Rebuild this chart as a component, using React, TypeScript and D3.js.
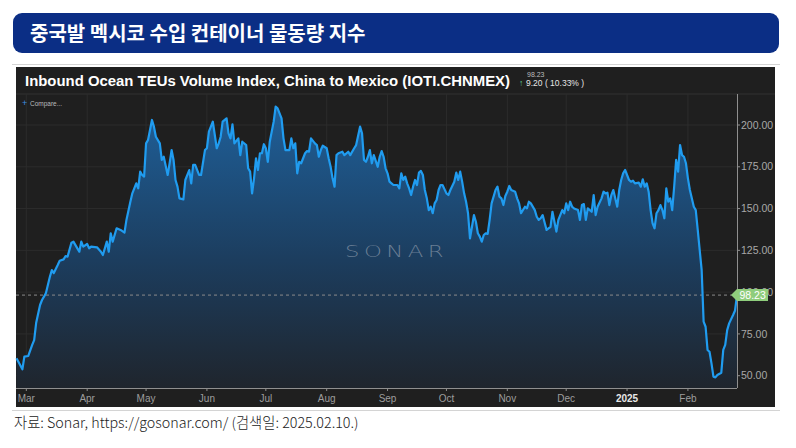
import React from "react";
import * as d3 from "d3";

// ---- Data ----
const START = new Date(2024, 2, 1); // day offset 0 = 2024-03-01
const dayOffsets = [
  -5, -2, -1, 1, 3, 4, 5, 7, 8, 9, 10, 12, 13, 14, 16, 17, 19, 20, 21, 23, 24, 26, 27, 28, 29, 31, 32, 33, 36, 38, 39, 41, 42, 43, 44, 46, 48, 50, 51, 53, 54, 56, 57, 58, 59, 60, 61, 62, 64, 65, 66, 68, 69, 70, 72, 73, 74, 75, 76, 77, 78, 80, 81, 83, 84, 85, 86, 88, 89, 91, 92, 93, 95, 97, 98, 99, 100, 102, 103, 104, 105, 106, 108, 109, 110, 112, 113, 114, 115, 116, 117, 118, 119, 120, 121, 122, 123, 124, 126, 127, 128, 130, 131, 132, 134, 135, 136, 137, 138, 139, 140, 142, 143, 144, 145, 147, 148, 149, 150, 151, 153, 154, 155, 156, 157, 158, 159, 161, 162, 164, 165, 167, 168, 170, 171, 172, 173, 174, 175, 176, 177, 179, 180, 181, 182, 183, 184, 185, 186, 187, 189, 190, 191, 192, 193, 194, 195, 196, 197, 198, 199, 200, 201, 202, 203, 204, 205, 206, 207, 208, 209, 210, 211, 212, 214, 215, 216, 218, 219, 220, 221, 222, 223, 224, 225, 226, 227, 228, 229, 230, 231, 232, 233, 234, 235, 236, 237, 239, 240, 241, 242, 243, 244, 245, 246, 247, 249, 250, 251, 252, 254, 255, 256, 257, 259, 260, 261, 262, 263, 265, 267, 268, 270, 271, 273, 274, 275, 276, 277, 278, 279, 281, 282, 283, 284, 285, 286, 287, 288, 289, 290, 291, 293, 294, 295, 296, 297, 298, 299, 301, 302, 303, 304, 305, 307, 308, 309, 310, 312, 313, 314, 315, 316, 317, 318, 319, 320, 321, 322, 323, 324, 325, 326, 327, 328, 329, 330, 331, 332, 333, 334, 335, 336, 337, 338, 340, 341, 342, 343, 344, 345, 346, 347, 348, 349, 350, 351, 352, 354, 355, 356, 357, 358, 360, 361, 362,
];
const indexValues = [
  60.4, 53.8, 61.4, 61.8, 68.4, 71.3, 81.5, 92.3, 95.3, 97.3, 99.5, 109.2, 113.2, 111.4, 116.2, 118.8, 119.6, 121.6, 121.2, 129.6, 130.2, 126.2, 124.2, 130.2, 127.2, 128.8, 126.2, 127.2, 126.8, 124.2, 122.2, 130.2, 124.2, 135.2, 130.2, 138.2, 137.2, 135.6, 143.2, 154.1, 159.1, 165.1, 162.1, 172.1, 170.1, 169.1, 189.0, 191.0, 203.0, 199.0, 193.0, 189.0, 179.1, 181.0, 170.1, 177.1, 185.0, 179.1, 167.1, 163.1, 156.1, 155.5, 167.1, 173.0, 165.1, 176.1, 176.1, 170.1, 170.1, 185.0, 186.1, 196.0, 202.0, 186.1, 189.0, 193.0, 202.0, 204.0, 195.0, 192.0, 200.4, 189.0, 192.0, 182.0, 190.0, 188.0, 174.1, 172.1, 159.1, 168.1, 180.1, 173.1, 183.1, 183.1, 188.5, 186.1, 178.0, 190.0, 202.0, 211.0, 210.0, 204.0, 192.0, 185.0, 185.0, 192.0, 186.1, 189.0, 171.1, 178.0, 177.1, 183.1, 184.4, 184.0, 192.0, 189.0, 188.0, 181.0, 185.0, 187.6, 186.1, 180.1, 175.0, 168.1, 163.1, 182.0, 183.1, 184.0, 182.0, 184.0, 182.0, 186.1, 188.0, 199.0, 195.0, 179.1, 178.0, 181.0, 185.0, 177.1, 182.0, 175.0, 181.0, 184.4, 181.0, 174.1, 171.1, 166.1, 165.1, 164.1, 164.1, 162.1, 171.1, 167.1, 169.1, 165.1, 162.1, 158.1, 163.1, 167.1, 164.1, 171.5, 172.5, 170.1, 161.1, 156.1, 149.1, 151.1, 147.2, 153.1, 155.1, 161.1, 164.1, 164.1, 159.1, 158.1, 161.1, 166.1, 171.5, 167.1, 172.1, 166.1, 159.1, 154.1, 147.2, 132.2, 139.1, 146.1, 142.1, 135.2, 133.2, 130.2, 134.2, 135.2, 134.8, 143.2, 153.1, 161.1, 163.1, 157.1, 156.1, 152.1, 157.5, 160.1, 163.5, 161.1, 160.1, 156.1, 153.1, 147.2, 151.1, 150.1, 154.1, 153.1, 149.1, 145.1, 143.2, 144.2, 146.1, 137.2, 139.1, 148.1, 136.2, 143.2, 149.1, 147.2, 153.1, 149.1, 154.1, 151.1, 150.1, 149.1, 143.2, 152.1, 152.7, 143.2, 150.1, 149.1, 148.1, 158.1, 146.1, 151.1, 156.1, 160.1, 159.1, 159.5, 152.1, 158.1, 161.1, 151.1, 161.1, 167.1, 171.1, 173.1, 167.1, 166.1, 166.7, 165.1, 165.5, 163.1, 167.5, 163.1, 165.1, 160.1, 149.1, 141.2, 138.2, 147.2, 149.1, 152.1, 149.1, 144.2, 162.1, 154.1, 156.1, 149.1, 163.1, 179.1, 172.1, 188.0, 182.0, 181.0, 177.1, 168.1, 161.1, 151.1, 149.1, 137.2, 125.2, 113.2, 82.3, 79.3, 65.4, 64.3, 57.4, 49.4, 49.0, 50.4, 51.8, 65.4, 68.4, 77.3, 81.3, 86.3, 89.03, 98.23,
];
const yTickValues = [50, 75, 100, 125, 150, 175, 200];
const lastValue = 98.23;
const changeText = "9.20 ( 10.33% )";

const titleText = "중국발 멕시코 수입 컨테이너 물동량 지수";
const chartTitle = "Inbound Ocean TEUs Volume Index, China to Mexico (IOTI.CHNMEX)";
const sourceText = "자료: Sonar, https://gosonar.com/ (검색일: 2025.02.10.)";

type Pt = { date: Date; value: number };
const data: Pt[] = dayOffsets.map((d, i) => ({
  date: d3.timeDay.offset(START, d),
  value: indexValues[i],
}));

export default function App() {
  const W = 796;
  const H = 448;
  const panel = { x: 16, y: 67, w: 759, h: 340 };
  const plotTop = 94;
  const plotBottom = 388;
  const plotLeft = 16;
  const plotRight = 737;

  const x = d3
    .scaleTime()
    .domain(d3.extent(data, (d) => d.date) as [Date, Date])
    .range([plotLeft + 0.5, plotRight]);
  const y = d3.scaleLinear().domain([50, 200]).range([375.7, 125]);

  const line = d3
    .line<Pt>()
    .x((d) => x(d.date))
    .y((d) => y(d.value))
    .curve(d3.curveLinear);
  const area = d3
    .area<Pt>()
    .x((d) => x(d.date))
    .y0(plotBottom)
    .y1((d) => y(d.value))
    .curve(d3.curveLinear);

  const monthTicks = d3.timeMonth.range(
    d3.timeMonth.ceil(x.domain()[0]),
    x.domain()[1]
  );
  const fmtTick = (d: Date) =>
    d.getMonth() === 0 ? d3.timeFormat("%Y")(d) : d3.timeFormat("%b")(d);

  const yl = y(lastValue);
  const axisFont = "'Liberation Sans', Arial, sans-serif";

  return (
    <svg
      width={W}
      height={H}
      style={{ position: "absolute", left: 0, top: 0, background: "#fff" }}
    >
      <defs>
        <linearGradient id="fillGrad" gradientUnits="userSpaceOnUse" x1="0" y1="105" x2="0" y2={plotBottom}>
          <stop offset="0%" stopColor="#1f609a" />
          <stop offset="55%" stopColor="#1c3d5e" />
          <stop offset="100%" stopColor="#1f252d" />
        </linearGradient>
        <clipPath id="plotClip">
          <rect x={plotLeft} y={plotTop} width={plotRight - plotLeft} height={plotBottom - plotTop} />
        </clipPath>
      </defs>
      <rect width={W} height={H} fill="#ffffff" />

      {/* Title bar */}
      <rect x={13} y={13} width={766} height={40} rx={9} fill="#0b2e85" />
      <text
        x={30}
        y={41}
        fill="#ffffff"
        fontSize={20}
        fontWeight={700}
        fontFamily="'Noto Sans CJK KR', sans-serif"
      >
        {titleText}
      </text>
      <line x1={12} x2={780} y1={64.5} y2={64.5} stroke="#d4d4d4" strokeWidth={1.2} />

      {/* Dark chart panel */}
      <rect x={panel.x} y={panel.y} width={panel.w} height={panel.h} fill="#1f1f1f" />
      <text
        x={25}
        y={86}
        fill="#ffffff"
        fontSize={14}
        fontWeight={700}
        fontFamily="'Liberation Sans', Arial, sans-serif"
        textLength={485}
        lengthAdjust="spacingAndGlyphs"
      >
        {chartTitle}
      </text>
      <text x={527} y={77} fill="#bdbdbd" fontSize={7} fontFamily={axisFont}>
        {lastValue.toFixed(2)}
      </text>
      <text x={519} y={86} fill="#5fd39a" fontSize={8.5} fontFamily={axisFont}>
        ↑
      </text>
      <text x={526} y={86} fill="#e6e6e6" fontSize={8.5} fontFamily={axisFont}>
        {changeText}
      </text>
      <line x1={panel.x} x2={panel.x + panel.w} y1={plotTop} y2={plotTop} stroke="#333" strokeWidth={1} />

      {/* grid */}
      <g>
        {monthTicks.map((t, i) => (
          <line
            key={"vg" + i}
            x1={x(t)}
            x2={x(t)}
            y1={plotTop}
            y2={plotBottom}
            stroke="#2c2c2c"
            strokeWidth={1}
          />
        ))}
        {yTickValues.map((v, i) => (
          <line
            key={"hg" + i}
            x1={plotLeft}
            x2={plotRight}
            y1={y(v)}
            y2={y(v)}
            stroke="#2c2c2c"
            strokeWidth={1}
          />
        ))}
      </g>

      <text x={22} y={106} fill="#3d8fe0" fontSize={9} fontFamily={axisFont}>
        +
      </text>
      <text x={30} y={105.5} fill="#bbbbbb" fontSize={6.5} fontFamily={axisFont}>
        Compare...
      </text>

      {/* area + line */}
      <g clipPath="url(#plotClip)">
        <path d={area(data) || ""} fill="url(#fillGrad)" />
      </g>
      <text
        x={345}
        y={257}
        fill="#8494a6"
        fillOpacity={0.75}
        fontSize={15.5}
        fontWeight={300}
        letterSpacing={3}
        fontFamily="'DejaVu Sans', sans-serif"
        textLength={103}
        lengthAdjust="spacingAndGlyphs"
      >
        SONAR
      </text>
      <line
        x1={plotLeft}
        x2={plotRight}
        y1={yl}
        y2={yl}
        stroke="#8a8a8a"
        strokeWidth={1}
        strokeDasharray="3,3"
      />
      <path
        d={line(data) || ""}
        fill="none"
        stroke="#209cf0"
        strokeWidth={2.2}
        strokeLinejoin="round"
      />

      {/* axes */}
      <line x1={plotRight + 0.5} x2={plotRight + 0.5} y1={plotTop} y2={plotBottom} stroke="#8f8f8f" strokeWidth={1} />
      <line x1={plotLeft} x2={plotRight} y1={plotBottom + 0.5} y2={plotBottom + 0.5} stroke="#8f8f8f" strokeWidth={1} />
      {yTickValues.map((v, i) => (
        <g key={"yt" + i}>
          <line x1={plotRight} x2={plotRight + 3} y1={y(v)} y2={y(v)} stroke="#8f8f8f" />
          <text
            x={741}
            y={y(v) + 3.7}
            fill="#a8a8a8"
            fontSize={10.5}
            fontFamily={axisFont}
          >
            {v.toFixed(2)}
          </text>
        </g>
      ))}
      {monthTicks.map((t, i) => (
        <g key={"xt" + i}>
          <line x1={x(t)} x2={x(t)} y1={plotBottom} y2={plotBottom + 3} stroke="#8f8f8f" />
          <text
            x={x(t)}
            y={401.5}
            textAnchor="middle"
            fill={t.getMonth() === 0 ? "#e8e8e8" : "#9d9d9d"}
            fontWeight={t.getMonth() === 0 ? 700 : 400}
            fontSize={10}
            fontFamily={axisFont}
          >
            {fmtTick(t)}
          </text>
        </g>
      ))}

      {/* last value label */}
      <path
        d={`M${plotRight - 6},${yl} L${plotRight},${yl - 6} L768,${yl - 6} L768,${yl + 6} L${plotRight},${yl + 6} Z`}
        fill="#8fcd7c"
      />
      <text x={739.5} y={yl + 3.8} fill="#ffffff" fontSize={10.5} fontFamily={axisFont}>
        {lastValue.toFixed(2)}
      </text>

      {/* footer */}
      <line x1={12} x2={780} y1={410.5} y2={410.5} stroke="#d4d4d4" strokeWidth={1.2} />
      <text
        x={14}
        y={427.5}
        fill="#222"
        fontSize={14.3}
        fontWeight={300}
        fontFamily="'Noto Sans CJK KR', sans-serif"
      >
        {sourceText}
      </text>
    </svg>
  );
}
